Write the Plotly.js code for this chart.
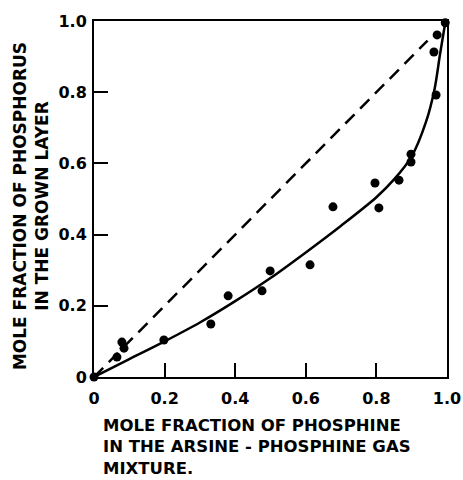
<!DOCTYPE html>
<html>
<head>
<meta charset="utf-8">
<script src="https://cdn.plot.ly/plotly-3.0.1.min.js"></script>
<style>
html,body{margin:0;padding:0;background:#fff;}
#chart{width:463px;height:480px;}
</style>
</head>
<body>
<div id="chart"></div>
<script>
// Measured points: mole fraction of phosphine in gas (x) vs phosphorus in layer (y)
var pointsX = [0.0, 0.065, 0.079, 0.085, 0.198, 0.331, 0.380, 0.476, 0.499, 0.612,
               0.677, 0.796, 0.807, 0.864, 0.898, 0.898, 0.963, 0.969, 0.972, 0.995];
var pointsY = [0.0, 0.056, 0.098, 0.081, 0.104, 0.149, 0.228, 0.242, 0.298, 0.315,
               0.478, 0.545, 0.475, 0.553, 0.626, 0.604, 0.913, 0.792, 0.961, 0.995];

// Solid curve
var curveX = [0.0, 0.1, 0.2, 0.3, 0.4, 0.5, 0.6, 0.7, 0.8, 0.85, 0.9, 0.94, 0.965, 0.98, 0.995];
var curveY = [0.0, 0.05, 0.10, 0.153, 0.213, 0.278, 0.350, 0.425, 0.505, 0.555, 0.620, 0.715, 0.810, 0.905, 0.995];

// Dashed reference line
var dashX = [0.0, 0.945];
var dashY = [0.0, 0.945];

var tickVals = [0, 0.2, 0.4, 0.6, 0.8, 1.0];
var tickText = ["0", "0.2", "0.4", "0.6", "0.8", "1.0"];

var xTitleLines = ["MOLE FRACTION OF PHOSPHINE", "IN THE ARSINE - PHOSPHINE GAS", "MIXTURE."];
var yTitleLines = ["MOLE FRACTION OF PHOSPHORUS", "IN THE GROWN LAYER"];

var FONT = "DejaVu Sans, sans-serif";

function boldLines(lines) {
  return lines.map(function (s) { return "<b>" + s + "</b>"; }).join("<br>");
}

var traces = [
  {x: dashX, y: dashY, mode: "lines", type: "scatter", cliponaxis: false,
   line: {color: "#000", width: 2.5, dash: "13px,8px"}, hoverinfo: "skip"},
  {x: curveX, y: curveY, mode: "lines", type: "scatter", cliponaxis: false,
   line: {color: "#000", width: 2.5, shape: "spline", smoothing: 0.8}, hoverinfo: "skip"},
  {x: pointsX, y: pointsY, mode: "markers", type: "scatter", cliponaxis: false,
   marker: {color: "#000", size: 9, symbol: "circle"}}
];

var axisCommon = {
  range: [0, 1],
  tickvals: tickVals,
  ticktext: tickText,
  ticks: "inside",
  ticklen: 14,
  tickwidth: 2,
  tickcolor: "#000",
  showline: true,
  linecolor: "#000",
  linewidth: 2,
  mirror: true,
  showgrid: false,
  zeroline: false,
  tickfont: {family: FONT, size: 16, color: "#000", weight: "bold"},
  fixedrange: true
};

var layout = {
  width: 463,
  height: 480,
  margin: {l: 94, r: 16, t: 21, b: 103},
  paper_bgcolor: "#fff",
  plot_bgcolor: "#fff",
  showlegend: false,
  font: {family: FONT, color: "#000"},
  xaxis: Object.assign({}, axisCommon, {ticklabelstandoff: 6}),
  yaxis: Object.assign({}, axisCommon, {ticklabelstandoff: 2}),
  annotations: [
    {text: boldLines(xTitleLines),
     xref: "paper", yref: "paper", x: (102 - 94) / 353, y: -(415 - 377) / 356,
     xanchor: "left", yanchor: "top", align: "left", showarrow: false, borderpad: 0,
     font: {family: FONT, size: 16.5, color: "#000"}},
    {text: boldLines(yTitleLines),
     xref: "paper", yref: "paper", x: (31 - 94) / 353, y: 0.48,
     xanchor: "center", yanchor: "middle", align: "center", textangle: -90, showarrow: false,
     font: {family: FONT, size: 17, color: "#000"}}
  ]
};

Plotly.newPlot("chart", traces, layout, {displayModeBar: false, staticPlot: true});
</script>
</body>
</html>
